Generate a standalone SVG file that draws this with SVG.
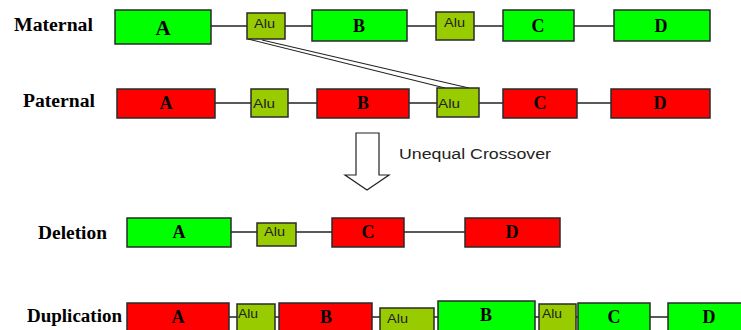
<svg xmlns="http://www.w3.org/2000/svg" width="741" height="330" viewBox="0 0 741 330">
<style>
.g{fill:#00ff00;stroke:#2a2a2a;stroke-width:1.5}
.r{fill:#ff0000;stroke:#2a2a2a;stroke-width:1.5}
.a{fill:#99cc00;stroke:#2a2a2a;stroke-width:1.5}
.lb{font-family:"Liberation Serif",serif;font-weight:bold;font-size:18px;fill:#000;text-anchor:middle}
.rl{font-family:"Liberation Serif",serif;font-weight:bold;font-size:18px;fill:#000}
.al{font-family:"Liberation Sans",sans-serif;font-size:12px;fill:#222}
.ln{stroke:#222;stroke-width:1.5;fill:none}
.xl{stroke:#222;stroke-width:1.1;fill:none}
</style>
<rect width="741" height="330" fill="#fff"/>
<g id="connectors">
<line class="ln" x1="210" y1="26" x2="614" y2="26"/>
<line class="ln" x1="215" y1="103" x2="611" y2="103"/>
<line class="ln" x1="231" y1="232" x2="465" y2="232"/>
<line class="ln" x1="229" y1="317" x2="668" y2="317"/>
<line class="xl" x1="248" y1="39" x2="445" y2="88"/>
<line class="xl" x1="262" y1="40" x2="469" y2="88"/>
</g>
<g id="row-labels">
<text class="rl" x="14" y="31" textLength="79" lengthAdjust="spacingAndGlyphs">Maternal</text>
<text class="rl" x="23" y="107" textLength="72" lengthAdjust="spacingAndGlyphs">Paternal</text>
<text class="rl" x="38" y="239" textLength="69" lengthAdjust="spacingAndGlyphs">Deletion</text>
<text class="rl" x="27" y="322" textLength="95" lengthAdjust="spacingAndGlyphs">Duplication</text>
</g>
<g id="maternal">
<g id="m-A"><rect class="g" x="115" y="10" width="96" height="34"/><text class="lb" x="163" y="35" style="font-size:21px">A</text></g>
<g id="m-alu1"><rect class="a" x="247" y="13" width="38" height="26"/><text class="al" x="254" y="28" textLength="21" lengthAdjust="spacingAndGlyphs">Alu</text></g>
<g id="m-B"><rect class="g" x="312" y="10" width="95" height="31"/><text class="lb" x="359" y="32">B</text></g>
<g id="m-alu2"><rect class="a" x="436" y="12" width="38" height="28"/><text class="al" x="444" y="27" textLength="21" lengthAdjust="spacingAndGlyphs">Alu</text></g>
<g id="m-C"><rect class="g" x="503" y="10" width="71" height="31"/><text class="lb" x="538" y="32">C</text></g>
<g id="m-D"><rect class="g" x="614" y="10" width="96" height="31"/><text class="lb" x="661" y="32">D</text></g>
</g>
<g id="paternal">
<g id="p-A"><rect class="r" x="117" y="89" width="98" height="29"/><text class="lb" x="166" y="109">A</text></g>
<g id="p-alu1"><rect class="a" x="251" y="89" width="37" height="28"/><text class="al" x="253" y="108" textLength="22" lengthAdjust="spacingAndGlyphs">Alu</text></g>
<g id="p-B"><rect class="r" x="317" y="89" width="92" height="29"/><text class="lb" x="363" y="109">B</text></g>
<g id="p-alu2"><rect class="a" x="437" y="88" width="42" height="29"/><text class="al" x="438" y="108" textLength="22" lengthAdjust="spacingAndGlyphs">Alu</text></g>
<g id="p-C"><rect class="r" x="503" y="89" width="74" height="29"/><text class="lb" x="540" y="109">C</text></g>
<g id="p-D"><rect class="r" x="611" y="89" width="99" height="29"/><text class="lb" x="660" y="109">D</text></g>
</g>
<g id="crossover-arrow">
<path d="M356,133 H379 V175 H389 L367,190 L345,175 H356 Z" fill="#fff" stroke="#222" stroke-width="1.2"/>
<text x="399" y="159" font-family="Liberation Sans, sans-serif" font-size="14" fill="#222" textLength="152" lengthAdjust="spacingAndGlyphs">Unequal Crossover</text>
</g>
<g id="deletion">
<g id="d-A"><rect class="g" x="127" y="218" width="104" height="29"/><text class="lb" x="179" y="238">A</text></g>
<g id="d-alu"><rect class="a" x="257" y="223" width="39" height="23"/><text class="al" x="264" y="236" textLength="21" lengthAdjust="spacingAndGlyphs">Alu</text></g>
<g id="d-C"><rect class="r" x="332" y="218" width="72" height="29"/><text class="lb" x="368" y="238">C</text></g>
<g id="d-D"><rect class="r" x="465" y="218" width="95" height="29"/><text class="lb" x="512" y="238">D</text></g>
</g>
<g id="duplication">
<g id="u-A"><rect class="r" x="127" y="303" width="102" height="32"/><text class="lb" x="178" y="323">A</text></g>
<g id="u-alu1"><rect class="a" x="237" y="304" width="38" height="31"/><text class="al" x="238" y="318" textLength="20" lengthAdjust="spacingAndGlyphs">Alu</text></g>
<g id="u-B1"><rect class="r" x="279" y="303" width="93" height="32"/><text class="lb" x="326" y="323">B</text></g>
<g id="u-alu2"><rect class="a" x="380" y="308" width="54" height="27"/><text class="al" x="387" y="323" textLength="21" lengthAdjust="spacingAndGlyphs">Alu</text></g>
<g id="u-B2"><rect class="g" x="438" y="301" width="97" height="34"/><text class="lb" x="486" y="321">B</text></g>
<g id="u-alu3"><rect class="a" x="539" y="304" width="37" height="31"/><text class="al" x="542" y="318" textLength="20" lengthAdjust="spacingAndGlyphs">Alu</text></g>
<g id="u-C"><rect class="g" x="578" y="303" width="72" height="32"/><text class="lb" x="614" y="323">C</text></g>
<g id="u-D"><rect class="g" x="668" y="303" width="80" height="32"/><text class="lb" x="709" y="323">D</text></g>
</g>
</svg>
